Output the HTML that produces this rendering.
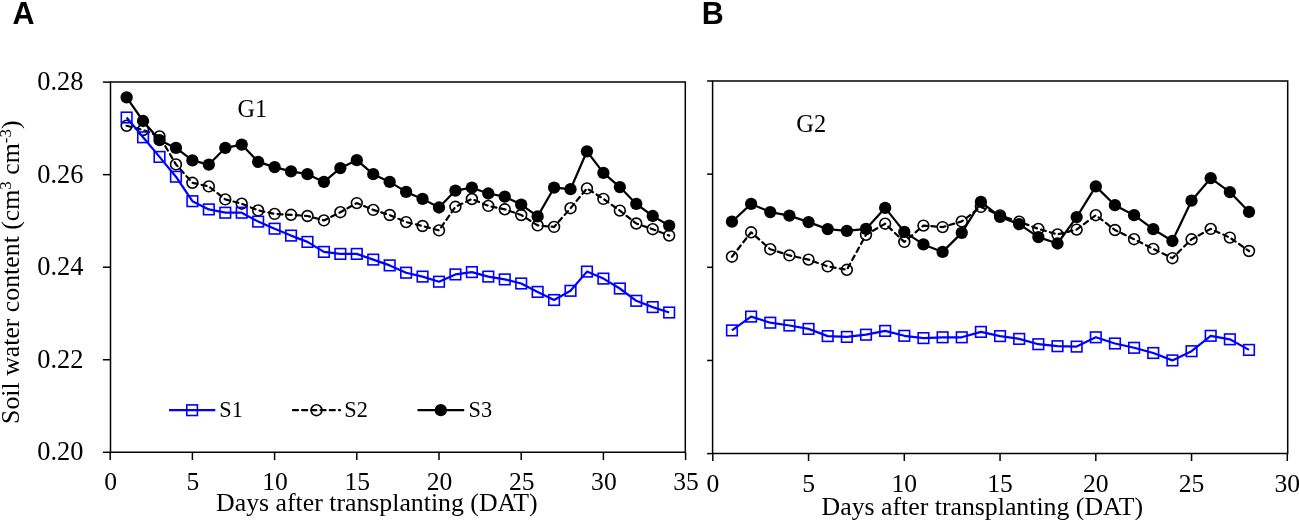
<!DOCTYPE html>
<html><head><meta charset="utf-8"><title>Soil water content</title>
<style>html,body{margin:0;padding:0;background:#fff;width:1299px;height:520px;overflow:hidden}svg{display:block;will-change:transform}</style>
</head><body>
<svg width="1299" height="520" viewBox="0 0 1299 520">
<text x="12.45" y="24" style="font-family:&quot;Liberation Sans&quot;,sans-serif;font-weight:bold" font-size="30.5">A</text>
<text x="701.7" y="24" style="font-family:&quot;Liberation Sans&quot;,sans-serif;font-weight:bold" font-size="30.5">B</text>
<g font-family="'Liberation Serif', serif" fill="#000">
<path d="M110.5 82.1H685.3V452.3H110.5Z" fill="none" stroke="#000" stroke-width="1.5"/>
<line x1="102.9" y1="82.1" x2="110.5" y2="82.1" stroke="#000" stroke-width="1.5"/>
<line x1="102.9" y1="174.65" x2="110.5" y2="174.65" stroke="#000" stroke-width="1.5"/>
<line x1="102.9" y1="267.2" x2="110.5" y2="267.2" stroke="#000" stroke-width="1.5"/>
<line x1="102.9" y1="359.75" x2="110.5" y2="359.75" stroke="#000" stroke-width="1.5"/>
<line x1="102.9" y1="452.3" x2="110.5" y2="452.3" stroke="#000" stroke-width="1.5"/>
<line x1="110.2" y1="452.3" x2="110.2" y2="460.1" stroke="#000" stroke-width="1.5"/>
<line x1="192.4" y1="452.3" x2="192.4" y2="460.1" stroke="#000" stroke-width="1.5"/>
<line x1="274.6" y1="452.3" x2="274.6" y2="460.1" stroke="#000" stroke-width="1.5"/>
<line x1="356.8" y1="452.3" x2="356.8" y2="460.1" stroke="#000" stroke-width="1.5"/>
<line x1="439" y1="452.3" x2="439" y2="460.1" stroke="#000" stroke-width="1.5"/>
<line x1="521.2" y1="452.3" x2="521.2" y2="460.1" stroke="#000" stroke-width="1.5"/>
<line x1="603.4" y1="452.3" x2="603.4" y2="460.1" stroke="#000" stroke-width="1.5"/>
<line x1="685.6" y1="452.3" x2="685.6" y2="460.1" stroke="#000" stroke-width="1.5"/>
<path d="M712.6 81H1287.7V453.6H712.6Z" fill="none" stroke="#000" stroke-width="1.5"/>
<line x1="707.1" y1="81" x2="712.6" y2="81" stroke="#000" stroke-width="1.5"/>
<line x1="707.1" y1="174.15" x2="712.6" y2="174.15" stroke="#000" stroke-width="1.5"/>
<line x1="707.1" y1="267.3" x2="712.6" y2="267.3" stroke="#000" stroke-width="1.5"/>
<line x1="707.1" y1="360.45" x2="712.6" y2="360.45" stroke="#000" stroke-width="1.5"/>
<line x1="707.1" y1="453.6" x2="712.6" y2="453.6" stroke="#000" stroke-width="1.5"/>
<line x1="712.8" y1="453.6" x2="712.8" y2="461" stroke="#000" stroke-width="1.5"/>
<line x1="808.55" y1="453.6" x2="808.55" y2="461" stroke="#000" stroke-width="1.5"/>
<line x1="904.3" y1="453.6" x2="904.3" y2="461" stroke="#000" stroke-width="1.5"/>
<line x1="1000.05" y1="453.6" x2="1000.05" y2="461" stroke="#000" stroke-width="1.5"/>
<line x1="1095.8" y1="453.6" x2="1095.8" y2="461" stroke="#000" stroke-width="1.5"/>
<line x1="1191.55" y1="453.6" x2="1191.55" y2="461" stroke="#000" stroke-width="1.5"/>
<line x1="1287.3" y1="453.6" x2="1287.3" y2="461" stroke="#000" stroke-width="1.5"/>
<text x="83.4" y="90.2" font-size="26.4" text-anchor="end">0.28</text>
<text x="83.4" y="182.75" font-size="26.4" text-anchor="end">0.26</text>
<text x="83.4" y="275.3" font-size="26.4" text-anchor="end">0.24</text>
<text x="83.4" y="367.85" font-size="26.4" text-anchor="end">0.22</text>
<text x="83.4" y="460.4" font-size="26.4" text-anchor="end">0.20</text>
<text x="110.7" y="490.3" font-size="25.6" text-anchor="middle">0</text>
<text x="192.9" y="490.3" font-size="25.6" text-anchor="middle">5</text>
<text x="275.1" y="490.3" font-size="25.6" text-anchor="middle">10</text>
<text x="357.3" y="490.3" font-size="25.6" text-anchor="middle">15</text>
<text x="439.5" y="490.3" font-size="25.6" text-anchor="middle">20</text>
<text x="521.7" y="490.3" font-size="25.6" text-anchor="middle">25</text>
<text x="603.9" y="490.3" font-size="25.6" text-anchor="middle">30</text>
<text x="686.1" y="490.3" font-size="25.6" text-anchor="middle">35</text>
<text x="712.8" y="491.5" font-size="25.6" text-anchor="middle">0</text>
<text x="808.55" y="491.5" font-size="25.6" text-anchor="middle">5</text>
<text x="904.3" y="491.5" font-size="25.6" text-anchor="middle">10</text>
<text x="1000.05" y="491.5" font-size="25.6" text-anchor="middle">15</text>
<text x="1095.8" y="491.5" font-size="25.6" text-anchor="middle">20</text>
<text x="1191.55" y="491.5" font-size="25.6" text-anchor="middle">25</text>
<text x="1287.3" y="491.5" font-size="25.6" text-anchor="middle">30</text>
<text x="216.05" y="511.4" font-size="25.8">Days after transplanting (DAT)</text>
<text x="821.55" y="514.8" font-size="25.8">Days after transplanting (DAT)</text>
<text transform="translate(19,423.9) rotate(-90)" font-size="25.8">Soil water content (cm<tspan font-size="17" dy="-8">3</tspan><tspan dy="8"> cm</tspan><tspan font-size="17" dy="-8">-3</tspan><tspan dy="8">)</tspan></text>
<text x="237.6" y="116.9" font-size="24.2">G1</text>
<text x="796.3" y="131.7" font-size="24.4">G2</text>
<polyline points="126.64,125.8 143.08,130 159.52,136.4 175.96,164.4 192.4,182.8 208.84,186.4 225.28,199.4 241.72,203.7 258.16,210.4 274.6,213.9 291.04,214.8 307.48,216 323.92,220.4 340.36,212.2 356.8,203.1 373.24,209.9 389.68,215 406.12,222.1 422.56,226 439,230.4 455.44,206.8 471.88,199 488.32,205.9 504.76,209.3 521.2,215 537.64,225.4 554.08,226.9 570.52,208.2 586.96,188.4 603.4,198.9 619.84,210.6 636.28,223.5 652.72,229.2 669.16,235.6" fill="none" stroke="#000" stroke-width="2.2" stroke-dasharray="5 4.2" stroke-linecap="round" stroke-linejoin="round"/>
<circle cx="126.64" cy="125.8" r="5.4" fill="#fff" fill-opacity="0" stroke="#000" stroke-width="1.6"/><circle cx="143.08" cy="130" r="5.4" fill="#fff" fill-opacity="0" stroke="#000" stroke-width="1.6"/><circle cx="159.52" cy="136.4" r="5.4" fill="#fff" fill-opacity="0" stroke="#000" stroke-width="1.6"/><circle cx="175.96" cy="164.4" r="5.4" fill="#fff" fill-opacity="0" stroke="#000" stroke-width="1.6"/><circle cx="192.4" cy="182.8" r="5.4" fill="#fff" fill-opacity="0" stroke="#000" stroke-width="1.6"/><circle cx="208.84" cy="186.4" r="5.4" fill="#fff" fill-opacity="0" stroke="#000" stroke-width="1.6"/><circle cx="225.28" cy="199.4" r="5.4" fill="#fff" fill-opacity="0" stroke="#000" stroke-width="1.6"/><circle cx="241.72" cy="203.7" r="5.4" fill="#fff" fill-opacity="0" stroke="#000" stroke-width="1.6"/><circle cx="258.16" cy="210.4" r="5.4" fill="#fff" fill-opacity="0" stroke="#000" stroke-width="1.6"/><circle cx="274.6" cy="213.9" r="5.4" fill="#fff" fill-opacity="0" stroke="#000" stroke-width="1.6"/><circle cx="291.04" cy="214.8" r="5.4" fill="#fff" fill-opacity="0" stroke="#000" stroke-width="1.6"/><circle cx="307.48" cy="216" r="5.4" fill="#fff" fill-opacity="0" stroke="#000" stroke-width="1.6"/><circle cx="323.92" cy="220.4" r="5.4" fill="#fff" fill-opacity="0" stroke="#000" stroke-width="1.6"/><circle cx="340.36" cy="212.2" r="5.4" fill="#fff" fill-opacity="0" stroke="#000" stroke-width="1.6"/><circle cx="356.8" cy="203.1" r="5.4" fill="#fff" fill-opacity="0" stroke="#000" stroke-width="1.6"/><circle cx="373.24" cy="209.9" r="5.4" fill="#fff" fill-opacity="0" stroke="#000" stroke-width="1.6"/><circle cx="389.68" cy="215" r="5.4" fill="#fff" fill-opacity="0" stroke="#000" stroke-width="1.6"/><circle cx="406.12" cy="222.1" r="5.4" fill="#fff" fill-opacity="0" stroke="#000" stroke-width="1.6"/><circle cx="422.56" cy="226" r="5.4" fill="#fff" fill-opacity="0" stroke="#000" stroke-width="1.6"/><circle cx="439" cy="230.4" r="5.4" fill="#fff" fill-opacity="0" stroke="#000" stroke-width="1.6"/><circle cx="455.44" cy="206.8" r="5.4" fill="#fff" fill-opacity="0" stroke="#000" stroke-width="1.6"/><circle cx="471.88" cy="199" r="5.4" fill="#fff" fill-opacity="0" stroke="#000" stroke-width="1.6"/><circle cx="488.32" cy="205.9" r="5.4" fill="#fff" fill-opacity="0" stroke="#000" stroke-width="1.6"/><circle cx="504.76" cy="209.3" r="5.4" fill="#fff" fill-opacity="0" stroke="#000" stroke-width="1.6"/><circle cx="521.2" cy="215" r="5.4" fill="#fff" fill-opacity="0" stroke="#000" stroke-width="1.6"/><circle cx="537.64" cy="225.4" r="5.4" fill="#fff" fill-opacity="0" stroke="#000" stroke-width="1.6"/><circle cx="554.08" cy="226.9" r="5.4" fill="#fff" fill-opacity="0" stroke="#000" stroke-width="1.6"/><circle cx="570.52" cy="208.2" r="5.4" fill="#fff" fill-opacity="0" stroke="#000" stroke-width="1.6"/><circle cx="586.96" cy="188.4" r="5.4" fill="#fff" fill-opacity="0" stroke="#000" stroke-width="1.6"/><circle cx="603.4" cy="198.9" r="5.4" fill="#fff" fill-opacity="0" stroke="#000" stroke-width="1.6"/><circle cx="619.84" cy="210.6" r="5.4" fill="#fff" fill-opacity="0" stroke="#000" stroke-width="1.6"/><circle cx="636.28" cy="223.5" r="5.4" fill="#fff" fill-opacity="0" stroke="#000" stroke-width="1.6"/><circle cx="652.72" cy="229.2" r="5.4" fill="#fff" fill-opacity="0" stroke="#000" stroke-width="1.6"/><circle cx="669.16" cy="235.6" r="5.4" fill="#fff" fill-opacity="0" stroke="#000" stroke-width="1.6"/>
<polyline points="126.64,117.5 143.08,137.3 159.52,156.9 175.96,176.7 192.4,201.2 208.84,209.4 225.28,212.7 241.72,212.7 258.16,221.6 274.6,228.7 291.04,235.6 307.48,241.9 323.92,251.9 340.36,253.9 356.8,253.9 373.24,259.6 389.68,265.4 406.12,272.7 422.56,276.6 439,281.7 455.44,274.4 471.88,272.1 488.32,276.6 504.76,279.4 521.2,283.5 537.64,291.9 554.08,300 570.52,290.8 586.96,271.6 603.4,278.6 619.84,288.5 636.28,300.8 652.72,307.1 669.16,312.5" fill="none" stroke="#0000ff" stroke-width="2.2" stroke-linejoin="round"/>
<rect x="121.34" y="112.2" width="10.6" height="10.6" fill="none" stroke="#0000ff" stroke-width="1.6"/><rect x="137.78" y="132" width="10.6" height="10.6" fill="none" stroke="#0000ff" stroke-width="1.6"/><rect x="154.22" y="151.6" width="10.6" height="10.6" fill="none" stroke="#0000ff" stroke-width="1.6"/><rect x="170.66" y="171.4" width="10.6" height="10.6" fill="none" stroke="#0000ff" stroke-width="1.6"/><rect x="187.1" y="195.9" width="10.6" height="10.6" fill="none" stroke="#0000ff" stroke-width="1.6"/><rect x="203.54" y="204.1" width="10.6" height="10.6" fill="none" stroke="#0000ff" stroke-width="1.6"/><rect x="219.98" y="207.4" width="10.6" height="10.6" fill="none" stroke="#0000ff" stroke-width="1.6"/><rect x="236.42" y="207.4" width="10.6" height="10.6" fill="none" stroke="#0000ff" stroke-width="1.6"/><rect x="252.86" y="216.3" width="10.6" height="10.6" fill="none" stroke="#0000ff" stroke-width="1.6"/><rect x="269.3" y="223.4" width="10.6" height="10.6" fill="none" stroke="#0000ff" stroke-width="1.6"/><rect x="285.74" y="230.3" width="10.6" height="10.6" fill="none" stroke="#0000ff" stroke-width="1.6"/><rect x="302.18" y="236.6" width="10.6" height="10.6" fill="none" stroke="#0000ff" stroke-width="1.6"/><rect x="318.62" y="246.6" width="10.6" height="10.6" fill="none" stroke="#0000ff" stroke-width="1.6"/><rect x="335.06" y="248.6" width="10.6" height="10.6" fill="none" stroke="#0000ff" stroke-width="1.6"/><rect x="351.5" y="248.6" width="10.6" height="10.6" fill="none" stroke="#0000ff" stroke-width="1.6"/><rect x="367.94" y="254.3" width="10.6" height="10.6" fill="none" stroke="#0000ff" stroke-width="1.6"/><rect x="384.38" y="260.1" width="10.6" height="10.6" fill="none" stroke="#0000ff" stroke-width="1.6"/><rect x="400.82" y="267.4" width="10.6" height="10.6" fill="none" stroke="#0000ff" stroke-width="1.6"/><rect x="417.26" y="271.3" width="10.6" height="10.6" fill="none" stroke="#0000ff" stroke-width="1.6"/><rect x="433.7" y="276.4" width="10.6" height="10.6" fill="none" stroke="#0000ff" stroke-width="1.6"/><rect x="450.14" y="269.1" width="10.6" height="10.6" fill="none" stroke="#0000ff" stroke-width="1.6"/><rect x="466.58" y="266.8" width="10.6" height="10.6" fill="none" stroke="#0000ff" stroke-width="1.6"/><rect x="483.02" y="271.3" width="10.6" height="10.6" fill="none" stroke="#0000ff" stroke-width="1.6"/><rect x="499.46" y="274.1" width="10.6" height="10.6" fill="none" stroke="#0000ff" stroke-width="1.6"/><rect x="515.9" y="278.2" width="10.6" height="10.6" fill="none" stroke="#0000ff" stroke-width="1.6"/><rect x="532.34" y="286.6" width="10.6" height="10.6" fill="none" stroke="#0000ff" stroke-width="1.6"/><rect x="548.78" y="294.7" width="10.6" height="10.6" fill="none" stroke="#0000ff" stroke-width="1.6"/><rect x="565.22" y="285.5" width="10.6" height="10.6" fill="none" stroke="#0000ff" stroke-width="1.6"/><rect x="581.66" y="266.3" width="10.6" height="10.6" fill="none" stroke="#0000ff" stroke-width="1.6"/><rect x="598.1" y="273.3" width="10.6" height="10.6" fill="none" stroke="#0000ff" stroke-width="1.6"/><rect x="614.54" y="283.2" width="10.6" height="10.6" fill="none" stroke="#0000ff" stroke-width="1.6"/><rect x="630.98" y="295.5" width="10.6" height="10.6" fill="none" stroke="#0000ff" stroke-width="1.6"/><rect x="647.42" y="301.8" width="10.6" height="10.6" fill="none" stroke="#0000ff" stroke-width="1.6"/><rect x="663.86" y="307.2" width="10.6" height="10.6" fill="none" stroke="#0000ff" stroke-width="1.6"/>
<polyline points="126.64,97.3 143.08,121 159.52,140.2 175.96,147.9 192.4,160.4 208.84,164.6 225.28,147.9 241.72,144.6 258.16,161.9 274.6,167.1 291.04,171.4 307.48,174.2 323.92,181.9 340.36,168.1 356.8,160.2 373.24,174.2 389.68,181.9 406.12,191.9 422.56,198.9 439,207.5 455.44,190.6 471.88,187.7 488.32,193.5 504.76,196.7 521.2,204.6 537.64,216.4 554.08,187.7 570.52,189.2 586.96,151.3 603.4,172.9 619.84,187.1 636.28,203.9 652.72,216 669.16,225.6" fill="none" stroke="#000" stroke-width="2.2" stroke-linejoin="round"/>
<circle cx="126.64" cy="97.3" r="6.15" fill="#000"/><circle cx="143.08" cy="121" r="6.15" fill="#000"/><circle cx="159.52" cy="140.2" r="6.15" fill="#000"/><circle cx="175.96" cy="147.9" r="6.15" fill="#000"/><circle cx="192.4" cy="160.4" r="6.15" fill="#000"/><circle cx="208.84" cy="164.6" r="6.15" fill="#000"/><circle cx="225.28" cy="147.9" r="6.15" fill="#000"/><circle cx="241.72" cy="144.6" r="6.15" fill="#000"/><circle cx="258.16" cy="161.9" r="6.15" fill="#000"/><circle cx="274.6" cy="167.1" r="6.15" fill="#000"/><circle cx="291.04" cy="171.4" r="6.15" fill="#000"/><circle cx="307.48" cy="174.2" r="6.15" fill="#000"/><circle cx="323.92" cy="181.9" r="6.15" fill="#000"/><circle cx="340.36" cy="168.1" r="6.15" fill="#000"/><circle cx="356.8" cy="160.2" r="6.15" fill="#000"/><circle cx="373.24" cy="174.2" r="6.15" fill="#000"/><circle cx="389.68" cy="181.9" r="6.15" fill="#000"/><circle cx="406.12" cy="191.9" r="6.15" fill="#000"/><circle cx="422.56" cy="198.9" r="6.15" fill="#000"/><circle cx="439" cy="207.5" r="6.15" fill="#000"/><circle cx="455.44" cy="190.6" r="6.15" fill="#000"/><circle cx="471.88" cy="187.7" r="6.15" fill="#000"/><circle cx="488.32" cy="193.5" r="6.15" fill="#000"/><circle cx="504.76" cy="196.7" r="6.15" fill="#000"/><circle cx="521.2" cy="204.6" r="6.15" fill="#000"/><circle cx="537.64" cy="216.4" r="6.15" fill="#000"/><circle cx="554.08" cy="187.7" r="6.15" fill="#000"/><circle cx="570.52" cy="189.2" r="6.15" fill="#000"/><circle cx="586.96" cy="151.3" r="6.15" fill="#000"/><circle cx="603.4" cy="172.9" r="6.15" fill="#000"/><circle cx="619.84" cy="187.1" r="6.15" fill="#000"/><circle cx="636.28" cy="203.9" r="6.15" fill="#000"/><circle cx="652.72" cy="216" r="6.15" fill="#000"/><circle cx="669.16" cy="225.6" r="6.15" fill="#000"/>
<polyline points="731.95,256.7 751.1,232.3 770.25,249.2 789.4,255.4 808.55,259.6 827.7,266.4 846.85,269.8 866,234.8 885.15,223.7 904.3,241.9 923.45,225.6 942.6,227.1 961.75,221.4 980.9,206.9 1000.05,215.4 1019.2,221.6 1038.35,228.9 1057.5,234.4 1076.65,229.6 1095.8,215.2 1114.95,230 1134.1,239.2 1153.25,248.9 1172.4,258.2 1191.55,239.3 1210.7,228.9 1229.85,237.6 1249,251" fill="none" stroke="#000" stroke-width="2.2" stroke-dasharray="5 4.2" stroke-linecap="round" stroke-linejoin="round"/>
<circle cx="731.95" cy="256.7" r="5.4" fill="#fff" fill-opacity="0" stroke="#000" stroke-width="1.6"/><circle cx="751.1" cy="232.3" r="5.4" fill="#fff" fill-opacity="0" stroke="#000" stroke-width="1.6"/><circle cx="770.25" cy="249.2" r="5.4" fill="#fff" fill-opacity="0" stroke="#000" stroke-width="1.6"/><circle cx="789.4" cy="255.4" r="5.4" fill="#fff" fill-opacity="0" stroke="#000" stroke-width="1.6"/><circle cx="808.55" cy="259.6" r="5.4" fill="#fff" fill-opacity="0" stroke="#000" stroke-width="1.6"/><circle cx="827.7" cy="266.4" r="5.4" fill="#fff" fill-opacity="0" stroke="#000" stroke-width="1.6"/><circle cx="846.85" cy="269.8" r="5.4" fill="#fff" fill-opacity="0" stroke="#000" stroke-width="1.6"/><circle cx="866" cy="234.8" r="5.4" fill="#fff" fill-opacity="0" stroke="#000" stroke-width="1.6"/><circle cx="885.15" cy="223.7" r="5.4" fill="#fff" fill-opacity="0" stroke="#000" stroke-width="1.6"/><circle cx="904.3" cy="241.9" r="5.4" fill="#fff" fill-opacity="0" stroke="#000" stroke-width="1.6"/><circle cx="923.45" cy="225.6" r="5.4" fill="#fff" fill-opacity="0" stroke="#000" stroke-width="1.6"/><circle cx="942.6" cy="227.1" r="5.4" fill="#fff" fill-opacity="0" stroke="#000" stroke-width="1.6"/><circle cx="961.75" cy="221.4" r="5.4" fill="#fff" fill-opacity="0" stroke="#000" stroke-width="1.6"/><circle cx="980.9" cy="206.9" r="5.4" fill="#fff" fill-opacity="0" stroke="#000" stroke-width="1.6"/><circle cx="1000.05" cy="215.4" r="5.4" fill="#fff" fill-opacity="0" stroke="#000" stroke-width="1.6"/><circle cx="1019.2" cy="221.6" r="5.4" fill="#fff" fill-opacity="0" stroke="#000" stroke-width="1.6"/><circle cx="1038.35" cy="228.9" r="5.4" fill="#fff" fill-opacity="0" stroke="#000" stroke-width="1.6"/><circle cx="1057.5" cy="234.4" r="5.4" fill="#fff" fill-opacity="0" stroke="#000" stroke-width="1.6"/><circle cx="1076.65" cy="229.6" r="5.4" fill="#fff" fill-opacity="0" stroke="#000" stroke-width="1.6"/><circle cx="1095.8" cy="215.2" r="5.4" fill="#fff" fill-opacity="0" stroke="#000" stroke-width="1.6"/><circle cx="1114.95" cy="230" r="5.4" fill="#fff" fill-opacity="0" stroke="#000" stroke-width="1.6"/><circle cx="1134.1" cy="239.2" r="5.4" fill="#fff" fill-opacity="0" stroke="#000" stroke-width="1.6"/><circle cx="1153.25" cy="248.9" r="5.4" fill="#fff" fill-opacity="0" stroke="#000" stroke-width="1.6"/><circle cx="1172.4" cy="258.2" r="5.4" fill="#fff" fill-opacity="0" stroke="#000" stroke-width="1.6"/><circle cx="1191.55" cy="239.3" r="5.4" fill="#fff" fill-opacity="0" stroke="#000" stroke-width="1.6"/><circle cx="1210.7" cy="228.9" r="5.4" fill="#fff" fill-opacity="0" stroke="#000" stroke-width="1.6"/><circle cx="1229.85" cy="237.6" r="5.4" fill="#fff" fill-opacity="0" stroke="#000" stroke-width="1.6"/><circle cx="1249" cy="251" r="5.4" fill="#fff" fill-opacity="0" stroke="#000" stroke-width="1.6"/>
<polyline points="731.95,330.4 751.1,316.6 770.25,322.7 789.4,325.5 808.55,328.9 827.7,336.1 846.85,336.9 866,334.7 885.15,330.9 904.3,335.8 923.45,338.1 942.6,337.3 961.75,337.3 980.9,331.9 1000.05,336.1 1019.2,338.9 1038.35,344.2 1057.5,346.2 1076.65,346.6 1095.8,337.3 1114.95,343.5 1134.1,347.8 1153.25,353 1172.4,360.4 1191.55,351.2 1210.7,335.8 1229.85,339.3 1249,349.9" fill="none" stroke="#0000ff" stroke-width="2.2" stroke-linejoin="round"/>
<rect x="726.65" y="325.1" width="10.6" height="10.6" fill="none" stroke="#0000ff" stroke-width="1.6"/><rect x="745.8" y="311.3" width="10.6" height="10.6" fill="none" stroke="#0000ff" stroke-width="1.6"/><rect x="764.95" y="317.4" width="10.6" height="10.6" fill="none" stroke="#0000ff" stroke-width="1.6"/><rect x="784.1" y="320.2" width="10.6" height="10.6" fill="none" stroke="#0000ff" stroke-width="1.6"/><rect x="803.25" y="323.6" width="10.6" height="10.6" fill="none" stroke="#0000ff" stroke-width="1.6"/><rect x="822.4" y="330.8" width="10.6" height="10.6" fill="none" stroke="#0000ff" stroke-width="1.6"/><rect x="841.55" y="331.6" width="10.6" height="10.6" fill="none" stroke="#0000ff" stroke-width="1.6"/><rect x="860.7" y="329.4" width="10.6" height="10.6" fill="none" stroke="#0000ff" stroke-width="1.6"/><rect x="879.85" y="325.6" width="10.6" height="10.6" fill="none" stroke="#0000ff" stroke-width="1.6"/><rect x="899" y="330.5" width="10.6" height="10.6" fill="none" stroke="#0000ff" stroke-width="1.6"/><rect x="918.15" y="332.8" width="10.6" height="10.6" fill="none" stroke="#0000ff" stroke-width="1.6"/><rect x="937.3" y="332" width="10.6" height="10.6" fill="none" stroke="#0000ff" stroke-width="1.6"/><rect x="956.45" y="332" width="10.6" height="10.6" fill="none" stroke="#0000ff" stroke-width="1.6"/><rect x="975.6" y="326.6" width="10.6" height="10.6" fill="none" stroke="#0000ff" stroke-width="1.6"/><rect x="994.75" y="330.8" width="10.6" height="10.6" fill="none" stroke="#0000ff" stroke-width="1.6"/><rect x="1013.9" y="333.6" width="10.6" height="10.6" fill="none" stroke="#0000ff" stroke-width="1.6"/><rect x="1033.05" y="338.9" width="10.6" height="10.6" fill="none" stroke="#0000ff" stroke-width="1.6"/><rect x="1052.2" y="340.9" width="10.6" height="10.6" fill="none" stroke="#0000ff" stroke-width="1.6"/><rect x="1071.35" y="341.3" width="10.6" height="10.6" fill="none" stroke="#0000ff" stroke-width="1.6"/><rect x="1090.5" y="332" width="10.6" height="10.6" fill="none" stroke="#0000ff" stroke-width="1.6"/><rect x="1109.65" y="338.2" width="10.6" height="10.6" fill="none" stroke="#0000ff" stroke-width="1.6"/><rect x="1128.8" y="342.5" width="10.6" height="10.6" fill="none" stroke="#0000ff" stroke-width="1.6"/><rect x="1147.95" y="347.7" width="10.6" height="10.6" fill="none" stroke="#0000ff" stroke-width="1.6"/><rect x="1167.1" y="355.1" width="10.6" height="10.6" fill="none" stroke="#0000ff" stroke-width="1.6"/><rect x="1186.25" y="345.9" width="10.6" height="10.6" fill="none" stroke="#0000ff" stroke-width="1.6"/><rect x="1205.4" y="330.5" width="10.6" height="10.6" fill="none" stroke="#0000ff" stroke-width="1.6"/><rect x="1224.55" y="334" width="10.6" height="10.6" fill="none" stroke="#0000ff" stroke-width="1.6"/><rect x="1243.7" y="344.6" width="10.6" height="10.6" fill="none" stroke="#0000ff" stroke-width="1.6"/>
<polyline points="731.95,221.7 751.1,203.9 770.25,212.1 789.4,215.6 808.55,222.1 827.7,229.1 846.85,230.8 866,228.9 885.15,207.9 904.3,231.9 923.45,244.4 942.6,251.9 961.75,232.9 980.9,201.9 1000.05,216.9 1019.2,224.2 1038.35,237.1 1057.5,243.5 1076.65,217.1 1095.8,186.4 1114.95,205.2 1134.1,215.2 1153.25,229.2 1172.4,241 1191.55,200.7 1210.7,178.2 1229.85,192.1 1249,211.8" fill="none" stroke="#000" stroke-width="2.2" stroke-linejoin="round"/>
<circle cx="731.95" cy="221.7" r="6.15" fill="#000"/><circle cx="751.1" cy="203.9" r="6.15" fill="#000"/><circle cx="770.25" cy="212.1" r="6.15" fill="#000"/><circle cx="789.4" cy="215.6" r="6.15" fill="#000"/><circle cx="808.55" cy="222.1" r="6.15" fill="#000"/><circle cx="827.7" cy="229.1" r="6.15" fill="#000"/><circle cx="846.85" cy="230.8" r="6.15" fill="#000"/><circle cx="866" cy="228.9" r="6.15" fill="#000"/><circle cx="885.15" cy="207.9" r="6.15" fill="#000"/><circle cx="904.3" cy="231.9" r="6.15" fill="#000"/><circle cx="923.45" cy="244.4" r="6.15" fill="#000"/><circle cx="942.6" cy="251.9" r="6.15" fill="#000"/><circle cx="961.75" cy="232.9" r="6.15" fill="#000"/><circle cx="980.9" cy="201.9" r="6.15" fill="#000"/><circle cx="1000.05" cy="216.9" r="6.15" fill="#000"/><circle cx="1019.2" cy="224.2" r="6.15" fill="#000"/><circle cx="1038.35" cy="237.1" r="6.15" fill="#000"/><circle cx="1057.5" cy="243.5" r="6.15" fill="#000"/><circle cx="1076.65" cy="217.1" r="6.15" fill="#000"/><circle cx="1095.8" cy="186.4" r="6.15" fill="#000"/><circle cx="1114.95" cy="205.2" r="6.15" fill="#000"/><circle cx="1134.1" cy="215.2" r="6.15" fill="#000"/><circle cx="1153.25" cy="229.2" r="6.15" fill="#000"/><circle cx="1172.4" cy="241" r="6.15" fill="#000"/><circle cx="1191.55" cy="200.7" r="6.15" fill="#000"/><circle cx="1210.7" cy="178.2" r="6.15" fill="#000"/><circle cx="1229.85" cy="192.1" r="6.15" fill="#000"/><circle cx="1249" cy="211.8" r="6.15" fill="#000"/>
<line x1="169" y1="410.2" x2="215.3" y2="410.2" stroke="#0000ff" stroke-width="2.2"/>
<rect x="186.8" y="404.9" width="10.6" height="10.6" fill="none" stroke="#0000ff" stroke-width="1.6"/>
<line x1="293" y1="410.2" x2="340" y2="410.2" stroke="#000" stroke-width="2.2" stroke-dasharray="5 4.2" stroke-linecap="round"/>
<circle cx="316.5" cy="410.2" r="5.4" fill="none" stroke="#000" stroke-width="1.6"/>
<line x1="417.5" y1="410.2" x2="464.2" y2="410.2" stroke="#000" stroke-width="2.2"/>
<circle cx="440.8" cy="410.2" r="6.15" fill="#000"/>
<text x="219.3" y="416.7" font-size="22.3">S1</text>
<text x="344.3" y="416.7" font-size="22.3">S2</text>
<text x="468.5" y="416.7" font-size="22.3">S3</text>
</g></svg>
</body></html>
